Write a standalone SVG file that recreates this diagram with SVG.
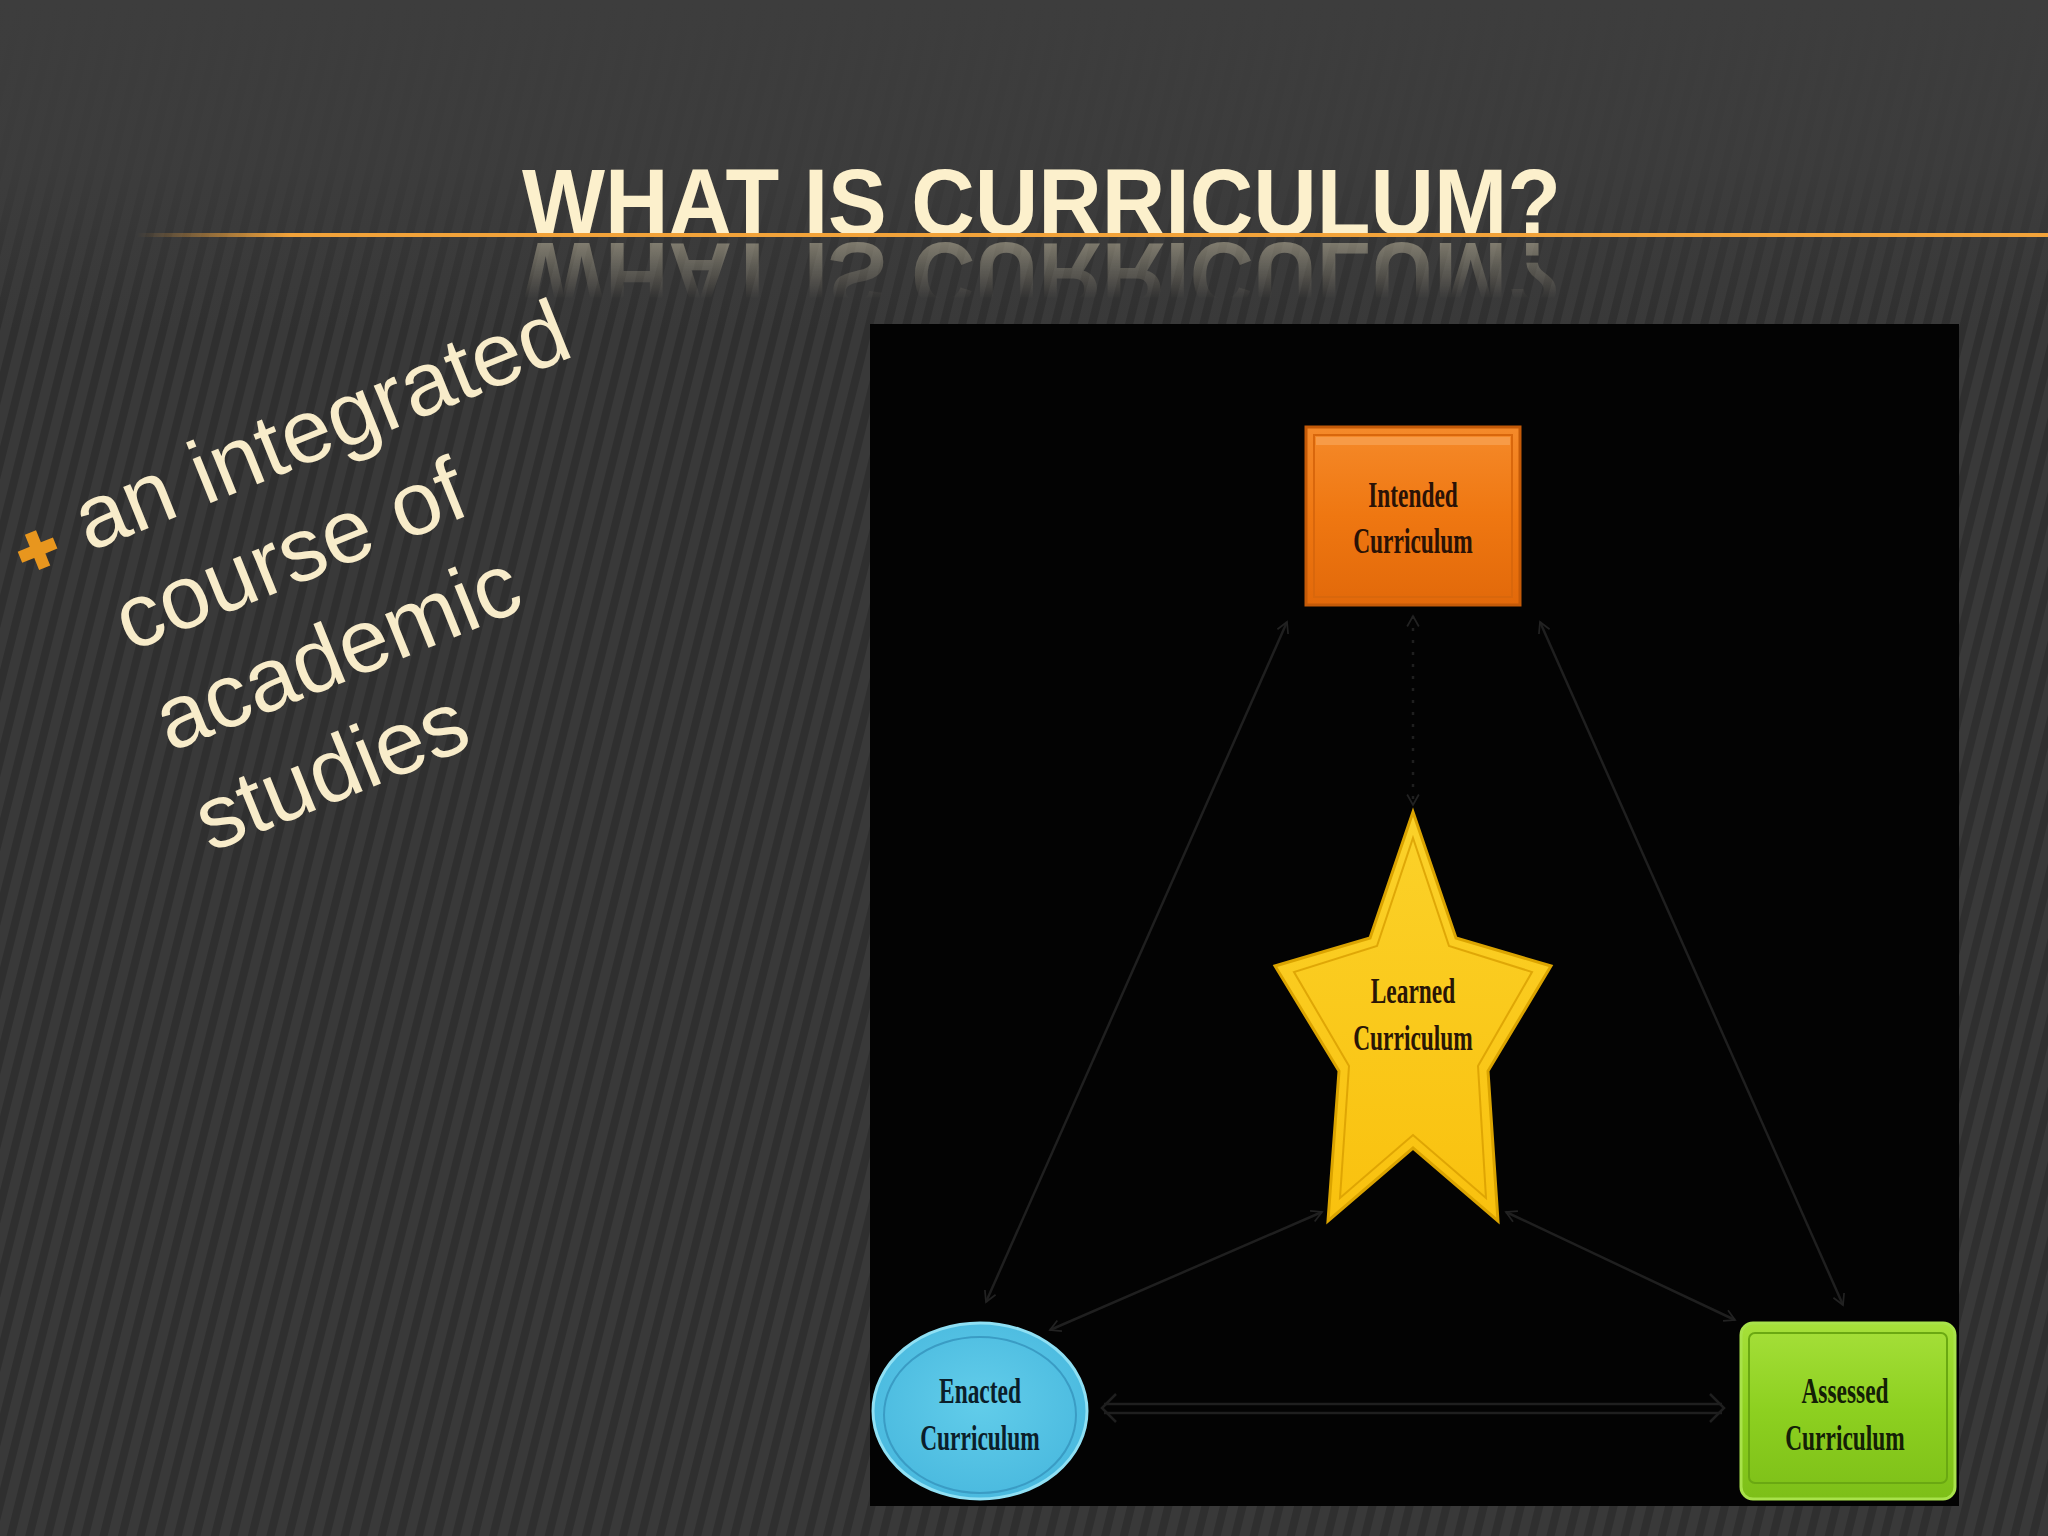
<svg xmlns="http://www.w3.org/2000/svg" xmlns:xlink="http://www.w3.org/1999/xlink" width="2048" height="1536" viewBox="0 0 2048 1536">
<defs>
<style>
.node-text{font-family:"Liberation Serif","Times New Roman",serif;font-weight:bold;font-size:36px;text-anchor:middle}
.conn{stroke:#1f1f1f;stroke-width:2.5;fill:none}
.body{font-family:"Liberation Sans",Arial,sans-serif;font-size:90px;fill:#f8ecca}
</style>
<pattern id="stripes" width="18" height="18" patternUnits="userSpaceOnUse" patternTransform="rotate(14)">
<rect width="18" height="18" fill="#393939"/>
<rect width="8" height="18" fill="#2f2f2f"/>
</pattern>
<linearGradient id="topfade" x1="0" y1="0" x2="0" y2="1">
<stop offset="0" stop-color="#3d3d3d" stop-opacity="1"/>
<stop offset="0.5" stop-color="#3d3d3d" stop-opacity="0.85"/>
<stop offset="1" stop-color="#3d3d3d" stop-opacity="0"/>
</linearGradient>
<linearGradient id="linegrad" x1="0" y1="0" x2="1" y2="0">
<stop offset="0" stop-color="#f2a33a" stop-opacity="0"/>
<stop offset="0.08" stop-color="#f2a33a" stop-opacity="1"/>
<stop offset="1" stop-color="#f2a33a"/>
</linearGradient>
<linearGradient id="reflgrad" x1="0" y1="0" x2="0" y2="1">
<stop offset="0" stop-color="#fff" stop-opacity="0.4"/>
<stop offset="1" stop-color="#fff" stop-opacity="0"/>
</linearGradient>
<mask id="reflmask" maskUnits="userSpaceOnUse" x="0" y="237" width="2048" height="62">
<rect x="0" y="237" width="2048" height="62" fill="url(#reflgrad)"/>
</mask>
<linearGradient id="orangeFill" x1="0" y1="0" x2="0" y2="1">
<stop offset="0" stop-color="#f58a2a"/>
<stop offset="0.5" stop-color="#ef7711"/>
<stop offset="1" stop-color="#e2690a"/>
</linearGradient>
<linearGradient id="starFill" x1="0" y1="0" x2="0" y2="1">
<stop offset="0" stop-color="#fbd22a"/>
<stop offset="1" stop-color="#f9c10e"/>
</linearGradient>
<radialGradient id="ellFill" cx="0.5" cy="0.45" r="0.6">
<stop offset="0" stop-color="#62cdea"/>
<stop offset="1" stop-color="#48b8de"/>
</radialGradient>
<linearGradient id="greenFill" x1="0" y1="0" x2="0" y2="1">
<stop offset="0" stop-color="#a6e03a"/>
<stop offset="0.5" stop-color="#8dd020"/>
<stop offset="1" stop-color="#7dbf18"/>
</linearGradient>
<marker id="arrow" viewBox="0 0 12 12" refX="10" refY="6" markerWidth="14" markerHeight="14" markerUnits="userSpaceOnUse" orient="auto-start-reverse">
<path d="M1,1 L10,6 L1,11" fill="none" stroke="#222" stroke-width="1.5"/>
</marker>
</defs>

<!-- background -->
<rect width="2048" height="1536" fill="url(#stripes)"/>
<rect width="2048" height="330" fill="url(#topfade)"/>

<!-- title -->
<g id="title-group">
<text id="title" x="522" y="235" textLength="1039" lengthAdjust="spacingAndGlyphs" font-family="'Liberation Sans',Arial,sans-serif" font-weight="bold" font-size="95" fill="#fcf0cc">WHAT IS CURRICULUM?</text>
<g mask="url(#reflmask)">
<use xlink:href="#title" href="#title" transform="matrix(1,0,0,-1,0,478)"/>
</g>
<rect x="137" y="233" width="1911" height="4" fill="url(#linegrad)"/>
</g>

<!-- bullet text -->
<g id="bullet" transform="translate(89,552) rotate(-22)">
<path d="M-53,-40 h12 v13 h13 v12 h-13 v13 h-12 v-13 h-13 v-12 h13 z" fill="#e8961e"/>
<text class="body" x="0" y="0">an integrated</text>
<text class="body" x="0" y="108">course of</text>
<text class="body" x="0" y="216">academic</text>
<text class="body" x="0" y="324">studies</text>
</g>

<!-- diagram panel -->
<rect id="panel" x="870" y="324" width="1089" height="1182" fill="#030303"/>

<!-- connectors -->
<g id="connectors">
<line class="conn" x1="1287" y1="622" x2="986" y2="1302" marker-start="url(#arrow)" marker-end="url(#arrow)"/>
<line class="conn" x1="1540" y1="622" x2="1843" y2="1305" marker-start="url(#arrow)" marker-end="url(#arrow)"/>
<line class="conn" x1="1413" y1="616" x2="1413" y2="805" stroke-dasharray="3 9" marker-start="url(#arrow)" marker-end="url(#arrow)"/>
<line class="conn" x1="1322" y1="1212" x2="1050" y2="1330" marker-start="url(#arrow)" marker-end="url(#arrow)"/>
<line class="conn" x1="1506" y1="1212" x2="1735" y2="1320" marker-start="url(#arrow)" marker-end="url(#arrow)"/>
<line class="conn" x1="1104" y1="1404" x2="1722" y2="1404"/>
<line class="conn" x1="1104" y1="1413" x2="1722" y2="1413"/>
<path class="conn" d="M1116,1394 L1102,1408 L1116,1422 M1710,1394 L1724,1408 L1710,1422"/>
</g>

<!-- Intended -->
<g id="node-intended">
<rect x="1306" y="427" width="214" height="178" fill="url(#orangeFill)" stroke="#c45a08" stroke-width="3"/>
<rect x="1314" y="435" width="198" height="162" fill="none" stroke="#d9670c" stroke-width="2"/>
<rect x="1316" y="437" width="194" height="8" fill="#f7a050" opacity="0.8"/>
<text class="node-text" transform="translate(1413,507) scale(0.65,1)" fill="#2a1206">Intended</text>
<text class="node-text" transform="translate(1413,553) scale(0.65,1)" fill="#2a1206">Curriculum</text>
</g>

<!-- Learned -->
<g id="node-learned">
<polygon points="1413,812 1456,938 1551,966 1488,1071 1498,1221 1413,1148 1328,1221 1339,1071 1275,966 1370,938" fill="url(#starFill)" stroke="#dba400" stroke-width="3"/>
<polygon points="1413,838 1449,946 1532,972 1478,1066 1486,1198 1413,1135 1340,1198 1349,1066 1294,972 1377,946" fill="none" stroke="#d89e00" stroke-width="2" opacity="0.8"/>
<text class="node-text" transform="translate(1413,1003) scale(0.65,1)" fill="#2a1606">Learned</text>
<text class="node-text" transform="translate(1413,1050) scale(0.65,1)" fill="#2a1606">Curriculum</text>
</g>

<!-- Enacted -->
<g id="node-enacted">
<ellipse cx="980" cy="1411" rx="107" ry="88" fill="url(#ellFill)" stroke="#8fe0f4" stroke-width="3"/>
<ellipse cx="980" cy="1415" rx="96" ry="78" fill="none" stroke="#3a9cc4" stroke-width="2"/>
<text class="node-text" transform="translate(980,1403) scale(0.65,1)" fill="#0b1e2a">Enacted</text>
<text class="node-text" transform="translate(980,1450) scale(0.65,1)" fill="#0b1e2a">Curriculum</text>
</g>

<!-- Assessed -->
<g id="node-assessed">
<rect x="1741" y="1323" width="214" height="176" rx="12" fill="url(#greenFill)" stroke="#a8e24a" stroke-width="3"/>
<rect x="1749" y="1333" width="198" height="150" rx="6" fill="none" stroke="#6aa812" stroke-width="2"/>
<text class="node-text" transform="translate(1845,1403) scale(0.65,1)" fill="#142006">Assessed</text>
<text class="node-text" transform="translate(1845,1450) scale(0.65,1)" fill="#142006">Curriculum</text>
</g>
</svg>
